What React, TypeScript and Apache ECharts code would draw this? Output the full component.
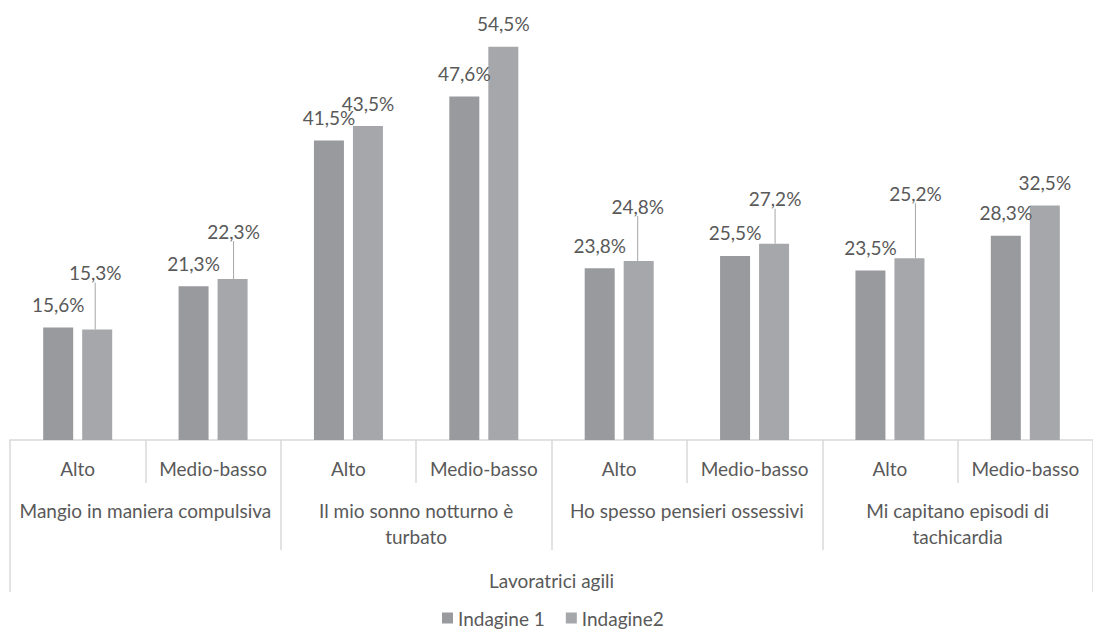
import React, { useEffect, useRef } from "react";
import * as echarts from "echarts";

const levels = ["Alto", "Medio-basso", "Alto", "Medio-basso", "Alto", "Medio-basso", "Alto", "Medio-basso"];
const groups = [
  "Mangio in maniera compulsiva",
  "Il mio sonno notturno è\nturbato",
  "Ho spesso pensieri ossessivi",
  "Mi capitano episodi di\ntachicardia",
];
const population = ["Lavoratrici agili"];
const seriesNames = ["Indagine 1", "Indagine2"];
const indagine1 = [15.6, 21.3, 41.5, 47.6, 23.8, 25.5, 23.5, 28.3];
const indagine2 = [15.3, 22.3, 43.5, 54.5, 24.8, 27.2, 25.2, 32.5];

// label callouts (series-dataIndex): [dx, height of label centre above bar top]
const callouts: Record<string, [number, number]> = {
  "1-0": [-2, 57],
  "1-1": [1, 48],
  "1-4": [-1, 55],
  "1-5": [1, 45],
  "1-6": [6, 65],
};

const FONT = "Lato";
const TEXT = "#595959";
const LINE = "#d9d9d9";
const FS = 19;

export default function App() {
  const ref = useRef<HTMLDivElement>(null);
  useEffect(() => {
    if (!ref.current) return;
    const chart = echarts.init(ref.current, undefined, { renderer: "svg" });
    const fmt = (p: any) => p.value.toFixed(1).replace(".", ",") + "%";
    const mk = (vals: number[], si: number) =>
      vals.map((v, i) =>
        callouts[si + "-" + i]
          ? { value: v, labelLine: { show: true, lineStyle: { color: "#a6a6a6", width: 1 } } }
          : { value: v }
      );
    chart.setOption({
      animation: false,
      textStyle: { fontFamily: FONT },
      grid: { left: 10, right: -9, top: 7, bottom: 193, containLabel: false },
      legend: {
        data: seriesNames,
        left: 440,
        top: 605,
        padding: 2,
        icon: "rect",
        itemWidth: 11,
        itemHeight: 11,
        itemGap: 21,
        textStyle: { fontSize: FS, lineHeight: 22, color: TEXT, fontFamily: FONT },
      },
      xAxis: [
        {
          type: "category",
          data: levels,
          position: "bottom",
          axisLine: { show: true, lineStyle: { color: LINE, width: 1.5 } },
          axisTick: { show: true, length: 43, interval: 0, lineStyle: { color: LINE, width: 1.5 } },
          axisLabel: { interval: 0, margin: 17, fontSize: FS, lineHeight: 22, color: TEXT, fontFamily: FONT },
        },
        {
          type: "category",
          data: groups,
          position: "bottom",
          offset: 43,
          axisLine: { show: false },
          axisTick: { show: true, length: 67, interval: 0, lineStyle: { color: LINE, width: 1.5 } },
          axisLabel: { interval: 0, margin: 14, fontSize: FS, lineHeight: 26, color: TEXT, fontFamily: FONT },
        },
        {
          type: "category",
          data: population,
          position: "bottom",
          offset: 110,
          axisLine: { show: false },
          axisTick: { show: true, length: 42, interval: 0, lineStyle: { color: LINE, width: 1.5 } },
          axisLabel: { interval: 0, margin: 19, fontSize: FS, lineHeight: 22, color: TEXT, fontFamily: FONT },
        },
      ],
      yAxis: { type: "value", min: 0, max: 60, show: false, splitLine: { show: false } },
      series: [indagine1, indagine2].map((vals, si) => ({
        name: seriesNames[si],
        type: "bar",
        xAxisIndex: 0,
        data: mk(vals, si),
        barWidth: 30,
        barGap: "30%",
        itemStyle: { color: si === 0 ? "#999a9d" : "#a6a7aa" },
        label: {
          show: true,
          position: "top",
          distance: 13,
          fontSize: FS,
          lineHeight: 20,
          color: TEXT,
          fontFamily: FONT,
          formatter: fmt,
        },
        labelLine: { show: false },
        labelLayout: (p: any) => {
          const c = callouts[p.seriesIndex + "-" + p.dataIndex];
          if (!c) return {};
          return {
            x: p.rect.x + p.rect.width / 2 + c[0],
            y: p.rect.y - c[1],
            align: "center",
            verticalAlign: "middle",
          };
        },
      })),
    });
    return () => chart.dispose();
  }, []);
  return (
    <div
      ref={ref}
      style={{ position: "fixed", left: 0, top: 0, width: 1093, height: 633, background: "#fff" }}
    />
  );
}
